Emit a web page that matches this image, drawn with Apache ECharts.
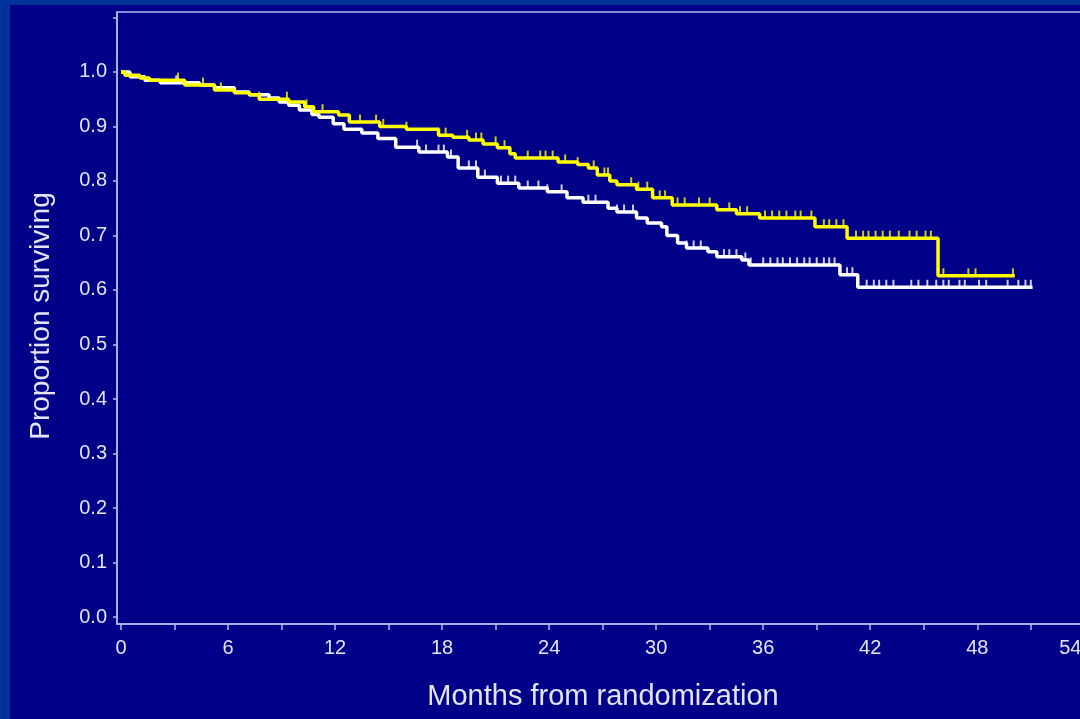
<!DOCTYPE html>
<html>
<head>
<meta charset="utf-8">
<script src="https://cdn.jsdelivr.net/npm/echarts@6/dist/echarts.min.js"></script>
<style>
  html, body { margin: 0; padding: 0; width: 1080px; height: 719px; overflow: hidden; background: #003399; }
  #chart { position: absolute; left: 10px; top: 5px; width: 1110px; height: 714px; }
</style>
</head>
<body>
<div id="chart"></div>
<script>
// ---- data (months, proportion surviving) ----
const xTickMonths = [0,3,6,9,12,15,18,21,24,27,30,33,36,39,42,45,48,51,54];
const xLabelMonths = [0,6,12,18,24,30,36,42,48,54];
const yTickValues = [0,0.1,0.2,0.3,0.4,0.5,0.6,0.7,0.8,0.9,1.0,1.1];
const yLabelValues = [0,0.1,0.2,0.3,0.4,0.5,0.6,0.7,0.8,0.9,1.0];

const yellowTimes = [0,0.22,1.06,1.6,3.57,5.24,6.36,7.19,7.75,9.4,10.3,10.8,12.2,12.8,14.5,16.0,17.8,18.6,19.5,20.3,21.1,21.8,22.1,24.5,25.6,26.2,26.7,27.4,27.8,28.9,29.8,30.9,33.4,34.5,35.8,38.9,40.7,45.8,50.1];
const yellowSurv  = [1.0,0.994,0.989,0.985,0.976,0.967,0.962,0.958,0.950,0.945,0.936,0.927,0.921,0.908,0.900,0.895,0.884,0.880,0.875,0.868,0.861,0.850,0.842,0.835,0.830,0.824,0.811,0.800,0.793,0.785,0.769,0.756,0.747,0.740,0.732,0.716,0.695,0.626,0.626];
const yellowCensor = [3.2,4.6,5.6,7.75,9.3,10.4,11.3,13.4,14.3,14.7,16.0,17.8,18.2,19.4,19.9,20.2,21.0,21.5,21.8,22.8,23.5,23.8,24.2,24.9,25.6,26.5,27.1,27.3,28.6,29.0,29.5,30.2,30.5,31.2,31.6,32.4,33.0,34.1,34.7,35.1,36.1,36.5,36.9,37.3,37.8,38.1,38.7,39.4,39.7,40.1,40.5,41.2,41.6,41.9,42.3,42.7,43.1,43.6,44.2,44.6,45.1,45.4,46.1,47.5,47.9,50.0];

const whiteTimes = [0,0.5,1.34,2.2,4.4,5.24,6.36,7.19,8.3,8.87,9.4,10.0,10.7,11.1,11.9,12.5,13.5,14.4,15.4,16.7,18.3,18.9,20.0,21.1,22.3,23.9,25.0,25.9,27.3,27.8,28.9,29.5,30.3,30.6,31.2,31.7,32.9,33.4,34.8,35.2,40.3,41.3,51.1];
const whiteSurv  = [1.0,0.991,0.985,0.980,0.976,0.971,0.963,0.958,0.952,0.945,0.939,0.930,0.922,0.917,0.905,0.895,0.888,0.878,0.862,0.853,0.844,0.824,0.807,0.796,0.787,0.780,0.769,0.761,0.750,0.743,0.732,0.723,0.716,0.700,0.686,0.677,0.670,0.661,0.655,0.646,0.628,0.605,0.605];
const whiteCensor = [3.1,16.6,17.1,17.8,18.1,18.5,19.5,19.9,20.4,21.3,21.7,22.1,22.8,23.4,23.9,24.7,26.2,26.6,27.8,28.2,28.7,31.7,32.1,32.5,33.8,34.1,34.5,35.0,35.3,36.0,36.4,36.8,37.1,37.5,37.9,38.3,38.6,39.0,39.4,39.7,40.0,40.7,41.0,41.8,42.2,42.5,42.9,43.3,44.3,44.7,45.2,45.7,46.1,46.4,47.0,47.3,48.1,48.5,49.7,50.3,50.7,51.0];

// ---- helpers ----
function pairs(ts, ss) { return ts.map((t, i) => [t, ss[i]]); }
function stepValue(ts, ss, t) {
  let v = ss[0];
  for (let i = 0; i < ts.length; i++) { if (ts[i] <= t) v = ss[i]; else break; }
  return v;
}
function censorPts(cs, ts, ss) { return cs.map(t => [t, stepValue(ts, ss, t)]); }

const axisCol = '#b8b8ea';
const textCol = '#e4e4f6';
const tickFont = '"Liberation Sans Narrow", "Liberation Sans", Arial, sans-serif';

const chart = echarts.init(document.getElementById('chart'));
chart.setOption({
  backgroundColor: '#000088',
  animation: false,
  grid: {
    left: 107, top: 7, width: 1008, height: 612,
    show: true, borderColor: axisCol, borderWidth: 1.5, backgroundColor: 'transparent'
  },
  xAxis: {
    type: 'value', min: -0.223, max: 56,
    splitLine: { show: false },
    axisLine: { show: true, onZero: false, lineStyle: { color: axisCol, width: 1.5 } },
    axisTick: { show: true, customValues: xTickMonths, length: 6, lineStyle: { color: axisCol, width: 1.5 } },
    axisLabel: {
      customValues: xLabelMonths, margin: 14,
      color: textCol, fontFamily: tickFont, fontSize: 20,
      formatter: v => (v === 54 ? '{s|54}' : String(v)),
      rich: { s: { fontFamily: tickFont, fontSize: 20, color: textCol, padding: [0, 28, 0, 0] } }
    }
  },
  yAxis: {
    type: 'value', min: -0.0128, max: 1.110,
    splitLine: { show: false },
    axisLine: { show: true, onZero: false, lineStyle: { color: axisCol, width: 1.5 } },
    axisTick: { show: true, customValues: yTickValues, length: 4, lineStyle: { color: axisCol, width: 1.5 } },
    axisLabel: {
      customValues: yLabelValues, margin: 10,
      color: textCol, fontFamily: tickFont, fontSize: 20,
      formatter: v => v.toFixed(1)
    }
  },
  graphic: [
    {
      type: 'text', x: 593, y: 692,
      style: {
        text: 'Months from randomization', x: 0, y: 0,
        align: 'center', verticalAlign: 'middle',
        font: '29px "Liberation Sans", Arial, sans-serif', fill: textCol
      }
    },
    {
      type: 'text', x: 31, y: 311, rotation: Math.PI / 2,
      style: {
        text: 'Proportion surviving', x: 0, y: 0,
        align: 'center', verticalAlign: 'middle',
        font: '28px "Liberation Sans", Arial, sans-serif', fill: textCol
      }
    }
  ],
  series: [
    {
      type: 'line', step: 'end', data: pairs(whiteTimes, whiteSurv),
      showSymbol: false, lineStyle: { color: '#ffffff', width: 3.5 }, z: 2
    },
    {
      type: 'scatter', data: censorPts(whiteCensor, whiteTimes, whiteSurv),
      symbol: 'rect', symbolSize: [2, 7], symbolOffset: [0, -4],
      itemStyle: { color: '#ffffff' }, z: 2
    },
    {
      type: 'line', step: 'end', data: pairs(yellowTimes, yellowSurv),
      showSymbol: false, lineStyle: { color: '#ffff00', width: 3.5 }, z: 3
    },
    {
      type: 'scatter', data: censorPts(yellowCensor, yellowTimes, yellowSurv),
      symbol: 'rect', symbolSize: [2, 7], symbolOffset: [0, -4],
      itemStyle: { color: '#ffff00' }, z: 3
    }
  ]
});
</script>
</body>
</html>
